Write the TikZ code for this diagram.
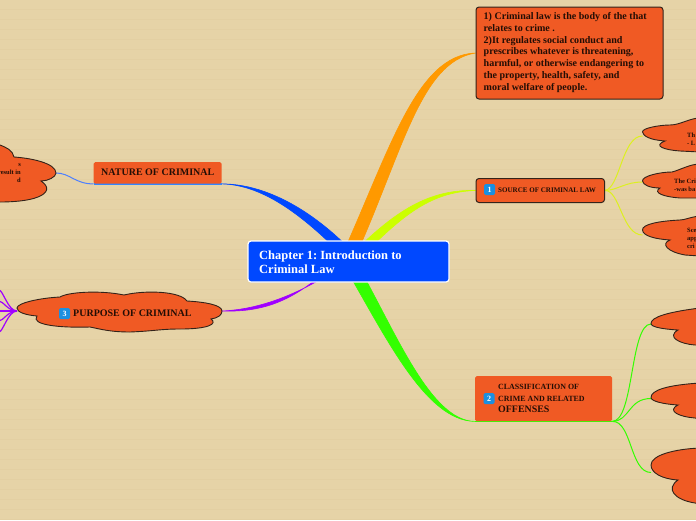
\documentclass[tikz,border=0pt]{standalone}
\usepackage{fontspec}
\setmainfont{Liberation Serif}
\usetikzlibrary{backgrounds,calc}
\frenchspacing
\definecolor{paper}{HTML}{E6D3A7}
\definecolor{paperline}{HTML}{E3CFA2}
\definecolor{tangerine}{HTML}{F05A24}
\definecolor{hubblue}{HTML}{0048FF}
\definecolor{cOrange}{HTML}{FF9900}
\definecolor{cLime}{HTML}{CCFF00}
\definecolor{cLimeThin}{HTML}{DDF020}
\definecolor{cGreen}{HTML}{33FF00}
\definecolor{cPurple}{HTML}{A000FF}
\definecolor{cBlue}{HTML}{0048FF}
\definecolor{cBadge}{HTML}{1B8FE0}
\definecolor{edge}{HTML}{33231A}
\tikzset{
  cloudshape/.style={fill=tangerine,draw=edge,line width=0.9pt},
  boxdark/.style={fill=tangerine,draw=edge,line width=1pt,rounded corners=3pt,inner sep=0pt,anchor=north west},
  boxflat/.style={fill=tangerine,draw=none,rounded corners=1.5pt,inner sep=0pt,anchor=north west},
  txt/.style={font=\bfseries,text=black!85!tangerine,inner sep=0pt,anchor=west,align=left},
  smalltxt/.style={txt,font=\fontsize{6.5}{8}\selectfont\bfseries},
  badge/.style={fill=cBadge,draw=none,rounded corners=1.5pt,minimum size=11pt,inner sep=0pt,text=white,font=\bfseries\fontsize{8}{8}\selectfont},
  thinlink/.style={line width=1pt},
  taper/.style={fill=#1,draw=#1,line width=0.6pt}
}
\begin{document}
\begin{tikzpicture}[x=1pt,y=-1pt]
\useasboundingbox (0,0) rectangle (696,520);
\clip (0,0) rectangle (696,520);
% nodes
\node[fill=hubblue,draw=white,line width=1.2pt,rounded corners=3pt,minimum width=201pt,minimum height=41pt,inner sep=0pt] (hub) at (348.5,261.5) {};
\node[txt,text=white,font=\bfseries\fontsize{12.5}{14}\selectfont] (hubtxt) at (259,262) {Chapter 1: Introduction to\\Criminal Law};
\node[boxdark,minimum width=187pt,minimum height=92pt] (defbox) at (475.5,6.5) {};
\node[txt,font=\bfseries\fontsize{10.05}{11.7}\selectfont] (deftxt) at (483.5,52.5) {1) Criminal law is the body of the that\\relates to crime .\\2)It regulates social conduct and\\prescribes whatever is threatening,\\harmful, or otherwise endangering to\\the property, health, safety, and\\moral welfare of people.};
\coordinate (defE) at ($(defbox.north west)+(0,46.5)$);
\node[boxdark,minimum width=128.5pt,minimum height=24pt] (source) at (475.5,178) {};
\node[badge] (b1) at (489.5,189.5) {1};
\node[txt,font=\bfseries\fontsize{7.05}{8}\selectfont] (sourcetxt) at (498,190.5) {SOURCE OF CRIMINAL LAW};
\node[boxflat,minimum width=137pt,minimum height=45pt] (classbox) at (475,376) {};
\node[badge] (b2) at (489,398.5) {2};
\node[txt,font=\bfseries\fontsize{7.95}{11.6}\selectfont] (classtxt) at (498,398.5) {CLASSIFICATION OF\\CRIME AND RELATED\\{\fontsize{9.9}{11}\selectfont OFFENSES}};
\node[boxflat,minimum width=128pt,minimum height=21.5pt] (nature) at (93.5,162) {};
\node[txt,font=\bfseries\fontsize{10}{12}\selectfont] (naturetxt) at (101,172.5) {NATURE OF CRIMINAL};
% clouds
\path[cloudshape] (0,145) .. controls (5,147) and (13,150) .. (14,157) .. controls (30,158) and (56,163) .. (56,173) coordinate (natc) .. controls (56,177) and (48,181) .. (41,181) .. controls (50,187) and (48,193) .. (38,197) .. controls (28,201) and (12,202) .. (0,202) -- (-5,202) -- (-5,145) -- cycle;
\path[cloudshape] (17,308) coordinate (purL) .. controls (17,303) and (40,298) .. (60,297) .. controls (68,292) and (100,290) .. (124,295) .. controls (145,290) and (180,291) .. (187,301) .. controls (205,302) and (222,305) .. (222,311) coordinate (purR) .. controls (222,315) and (218,318) .. (211,319) .. controls (218,324) and (208,329) .. (180,329) .. controls (160,329) and (155,331) .. (130,332) .. controls (110,332) and (100,329) .. (90,327) .. controls (60,328) and (30,325) .. (37,316) .. controls (25,315) and (17,312) .. (17,308) -- cycle;
\node[badge] (b3) at (64.5,313.5) {3};
\node[txt,font=\bfseries\fontsize{10}{12}\selectfont] (purposetxt) at (73,313.5) {PURPOSE OF CRIMINAL};
% right upper clouds
\path[cloudshape] (642.5,132) .. controls (642,128) and (660,125) .. (670,125) .. controls (680,125) and (690,118) .. (700,118) -- (700,152) -- (680,151) .. controls (665,150) and (652,146) .. (665,141) .. controls (650,140) and (643,136) .. (642.5,132) -- cycle;
\coordinate (r1) at (642.5,136);
\path[cloudshape] (642.5,181) .. controls (642,176) and (660,172) .. (672,172) .. controls (680,170) and (690,164) .. (700,164) -- (700,198) -- (680,198) .. controls (665,197) and (652,193) .. (660,188) .. controls (650,188) and (643,185) .. (642.5,181) -- cycle;
\coordinate (r2) at (642.5,182);
\path[cloudshape] (642.5,230) .. controls (642,224) and (660,221) .. (680,220) .. controls (685,220) and (690,217) .. (700,216) -- (700,256) -- (685,255) .. controls (668,252) and (660,244) .. (670,240) .. controls (655,239) and (643,236) .. (642.5,230) -- cycle;
\coordinate (r3) at (642.5,235);
\node[smalltxt] (r1t) at (687,139) {Th\\- L};
\node[smalltxt] (r2t) at (674,185) {The Cri\\-was ba};
\node[smalltxt] (r3t) at (687,238) {Sce\\app\\cri};
\node[smalltxt,anchor=east,align=right] (nt) at (21,173) {s\hspace{18pt}\\result in\\d\hspace{18pt}};
% right lower clouds
\path[cloudshape] (651,323.5) .. controls (651,317) and (668,312) .. (700,308) -- (700,345) -- (695,345) .. controls (680,344) and (666,337) .. (678,330) .. controls (662,329) and (651,327) .. (651,323.5) -- cycle;
\coordinate (g1) at (651,324);
\path[cloudshape] (651,397.5) .. controls (651,390) and (668,385) .. (700,383) -- (700,419) -- (695,418) .. controls (680,417) and (666,411) .. (678,405) .. controls (662,404) and (651,401) .. (651,397.5) -- cycle;
\coordinate (g2) at (651,398.5);
\path[cloudshape] (651,465) .. controls (651,455) and (675,449) .. (700,448) -- (700,504) -- (695,503) .. controls (675,500) and (665,489) .. (678,480) .. controls (662,479) and (651,473) .. (651,465) -- cycle;
\coordinate (g3) at (651,472.5);
% connectors and paper
\begin{pgfonlayer}{background}
\fill[paper] (0,0) rectangle (696,520);
\foreach \k in {0,...,51} {\draw[paperline,line width=1pt] (0,9.5+10*\k) -- (696,9.5+10*\k);}
\path[taper=cOrange] ($(hub.center)+(-9.5,0.5)$) .. controls (390,150) and (416,55) .. (defE) .. controls (420,62) and (403,152) .. ($(hub.center)+(4.5,0.5)$) -- cycle;
\path[taper=cLime] ($(hub.center)+(-4.5,0.5)$) .. controls (390,215) and (425,189) .. (source.west) .. controls (428,192) and (400,218) .. ($(hub.center)+(7.5,0.5)$) -- cycle;
\path[taper=cGreen] ($(hub.center)+(-6.5,0.5)$) .. controls (385,335) and (425,421) .. (classbox.south west) .. controls (430,421) and (395,330) .. ($(hub.center)+(7.5,0.5)$) -- cycle;
\path[taper=cBlue] ($(hub.center)+(13.5,0.5)$) .. controls (320,215) and (270,184) .. (nature.south east) .. controls (265,185) and (306,218) .. (hub.center) -- cycle;
\path[taper=cPurple] (hub.center) .. controls (315,285) and (270,309) .. (purR) .. controls (268,312.5) and (295,298) .. ($(hub.center)+(-19,7)$) -- cycle;
\draw[cGreen,line width=1.2pt] (classbox.south west) -- (classbox.south east);
\draw[blue!60!cyan!80,line width=1.4pt] (nature.south east) -- (nature.south west);
\draw[cBlue!70!white,thinlink] (nature.south west) .. controls (75,184) and (70,173) .. (natc);
\draw[cLimeThin,thinlink] (source.east) .. controls (620,188) and (622,136) .. (r1);
\draw[cLimeThin,thinlink] (source.east) .. controls (618,190) and (625,182) .. (r2);
\draw[cLimeThin,thinlink] (source.east) .. controls (620,190) and (622,235) .. (r3);
\draw[cGreen,thinlink] (classbox.south east) .. controls (634,421) and (630,324) .. (g1);
\draw[cGreen,thinlink] (classbox.south east) .. controls (630,421) and (628,398.5) .. (g2);
\draw[cGreen,thinlink] (classbox.south east) .. controls (632,421) and (630,472.5) .. (g3);
\foreach \yy in {290,301,311,321,332} {\coordinate (pE) at (-1,\yy); \draw[cPurple,line width=1.2pt] (purL)++(0,3) .. controls (8,311) and (3,\yy) .. (pE);}
\end{pgfonlayer}
\end{tikzpicture}
\end{document}
